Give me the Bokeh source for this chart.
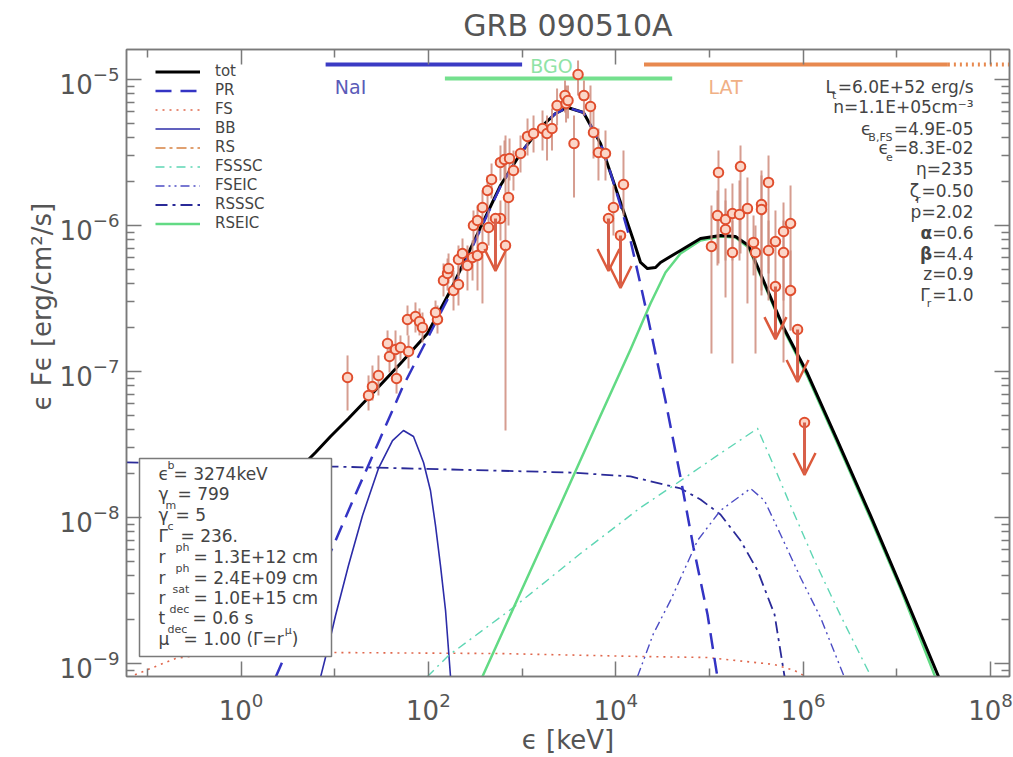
import numpy as np
from bokeh.plotting import figure
from bokeh.models import (Range1d, FixedTicker, LogAxis, Legend, LegendItem, Label, Title,
                          Arrow, OpenHead, ColumnDataSource)
from bokeh.embed import file_html
from bokeh.resources import INLINE

TITLE = "GRB 090510A"
X_LABEL = "ϵ [keV]"
Y_LABEL = "ϵ Fϵ [erg/cm²/s]"

# ---------------- model curves: log10(E/keV), log10(eF_e / erg cm^-2 s^-1) ----------------
tot_logE = [0.688, 0.795, 0.955, 1.147, 1.382, 1.702, 1.990, 2.236, 2.481, 2.769, 2.983, 3.196,
            3.356, 3.484, 3.655, 3.837, 4.018, 4.189, 4.264, 4.338, 4.424, 4.477, 4.691, 4.904,
            5.117, 5.277, 5.416, 5.576, 5.790, 6.046, 6.366, 6.718, 7.038, 7.444]
tot_logF = [-7.623, -7.555, -7.445, -7.322, -7.164, -6.945, -6.740, -6.445, -6.116, -5.726, -5.507,
            -5.329, -5.233, -5.192, -5.226, -5.438, -5.781, -6.103, -6.253, -6.295, -6.288, -6.253,
            -6.171, -6.089, -6.068, -6.075, -6.137, -6.377, -6.699, -7.014, -7.473, -7.986, -8.466,
            -9.089]

pr_logE = [0.368, 0.635, 1.009, 1.222, 1.467, 1.723, 1.990, 2.236, 2.481, 2.769, 2.983, 3.196,
           3.356, 3.484, 3.655, 3.837, 3.943, 4.050, 4.157, 4.264, 4.349, 4.530, 4.691, 4.829,
           4.979, 5.085]
pr_logF = [-9.096, -8.705, -8.158, -7.842, -7.486, -7.110, -6.774, -6.466, -6.130, -5.733, -5.507,
           -5.329, -5.233, -5.192, -5.226, -5.438, -5.637, -5.863, -6.103, -6.404, -6.651, -7.199,
           -7.726, -8.205, -8.664, -9.096]

fs_logE = [-1.201, -0.966, -0.699, -0.326, 1.009, 2.769, 4.264, 4.979, 5.694, 5.907, 6.046]
fs_logF = [-9.096, -9.034, -8.966, -8.932, -8.925, -8.932, -8.952, -8.959, -9.007, -9.048, -9.096]

bb_logE = [0.848, 0.934, 1.009, 1.147, 1.297, 1.467, 1.617, 1.734, 1.841, 1.948, 2.022, 2.076,
           2.129, 2.183, 2.236]
bb_logF = [-9.096, -8.877, -8.671, -8.329, -7.986, -7.664, -7.473, -7.404, -7.445, -7.623, -7.815,
           -8.055, -8.329, -8.637, -9.089]

rs_logE = [float("nan")]   # reverse-shock synchrotron: not inside the plotted range
rs_logF = [float("nan")]

fsssc_logE = [1.990, 2.215, 2.908, 3.623, 4.264, 4.616, 5.085, 5.513, 5.694, 5.865, 6.121, 6.398, 6.729]
fsssc_logF = [-9.089, -8.945, -8.616, -8.247, -7.932, -7.781, -7.575, -7.390, -7.658, -7.918, -8.295,
              -8.671, -9.096]

fseic_logE = [4.232, 4.402, 4.584, 4.872, 5.117, 5.438, 5.587, 5.758, 5.971, 6.185, 6.441]
fseic_logF = [-9.089, -8.795, -8.568, -8.158, -7.952, -7.801, -7.884, -8.116, -8.411, -8.685, -9.096]

rsssc_logE = [-1.222, -0.432, 0.977, 2.236, 3.517, 4.157, 4.691, 4.904, 5.117, 5.331, 5.513, 5.694, 5.801]
rsssc_logF = [-7.623, -7.630, -7.651, -7.671, -7.692, -7.719, -7.801, -7.877, -7.979, -8.158, -8.363,
              -8.664, -9.089]

rseic_logE = [2.577, 2.983, 3.410, 3.837, 4.157, 4.370, 4.530, 4.691, 4.904, 5.117, 5.277, 5.416,
              5.576, 5.790, 6.046, 6.366, 6.718, 7.038, 7.412]
rseic_logF = [-9.089, -8.514, -7.911, -7.301, -6.849, -6.534, -6.322, -6.192, -6.103, -6.075, -6.082,
              -6.151, -6.390, -6.712, -7.034, -7.493, -8.007, -8.486, -9.096]

# ---------------- measured points (GBM + LAT) ----------------
gbm_logE = [1.137, 1.361, 1.403, 1.467, 1.564, 1.585, 1.649, 1.660, 1.702, 1.788,
            1.777, 1.862, 1.905, 1.937, 2.097, 2.076, 2.161, 2.204, 2.215, 2.268,
            2.321, 2.321, 2.364, 2.417, 2.471, 2.524, 2.577, 2.481, 2.524, 2.577,
            2.631, 2.674, 2.642, 2.769, 2.823, 2.769, 2.812, 2.866, 2.855, 2.908,
            2.983, 3.058, 3.122, 3.218, 3.266, 3.319, 3.373, 3.469, 3.554, 3.730,
            3.762, 3.815, 3.890, 4.082, 3.975, 3.597, 3.458, 3.660, 3.490]
gbm_logF = [-7.041, -7.164, -7.103, -7.027, -6.808, -6.897, -6.849, -7.048, -6.836, -6.863,
            -6.644, -6.623, -6.658, -6.699, -6.644, -6.596, -6.377, -6.329, -6.295, -6.445,
            -6.404, -6.233, -6.192, -6.274, -6.219, -6.205, -6.151, -6.000, -5.966, -5.877,
            -5.760, -5.685, -6.014, -5.952, -6.137, -5.568, -5.548, -5.541, -5.808, -5.623,
            -5.507, -5.390, -5.370, -5.336, -5.370, -5.336, -5.178, -5.164, -5.438, -5.185,
            -5.363, -5.500, -5.507, -5.719, -5.877, -4.966, -5.110, -5.110, -5.144]
gbm_logF_hi = [-6.890, -7.027, -6.959, -6.890, -6.719, -6.788, -6.719, -6.959, -6.753, -6.753,
               -6.548, -6.527, -6.568, -6.596, -6.548, -6.514, -6.260, -6.226, -6.192, -6.308,
               -6.274, -6.137, -6.089, -6.137, -6.103, -6.068, -6.014, -5.897, -5.863, -5.760,
               -5.658, -5.575, -5.897, -5.829, -5.384, -5.452, -5.418, -5.404, -5.623, -5.486,
               -5.384, -5.267, -5.247, -5.212, -5.247, -5.199, -5.062, -5.041, -5.247, -5.041,
               -5.212, -5.336, -5.349, -5.486, -5.726, -4.870, -5.007, -5.007, -5.041]
gbm_logF_lo = [-7.267, -7.267, -7.199, -7.164, -6.925, -7.007, -6.979, -7.151, -6.925, -6.979,
               -6.753, -6.733, -6.753, -6.801, -6.740, -6.685, -6.486, -6.445, -6.397, -6.582,
               -6.548, -6.342, -6.308, -6.445, -6.377, -6.445, -6.534, -6.123, -6.089, -6.000,
               -5.897, -5.815, -6.137, -6.103, -7.404, -5.692, -5.678, -5.692, -6.000, -5.760,
               -5.637, -5.521, -5.500, -5.486, -5.555, -5.486, -5.315, -5.295, -5.808, -5.349,
               -5.541, -5.692, -5.692, -5.932, -6.068, -5.110, -5.226, -5.247, -5.267]

lat_logE = [5.096, 5.331, 5.630, 5.021, 5.085, 5.171, 5.245, 5.245, 5.320, 5.405, 5.555,
            5.555, 5.171, 5.470, 5.491, 5.630, 5.704, 5.790, 5.865, 5.790, 5.865]
lat_logF = [-5.637, -5.596, -5.705, -6.144, -5.932, -5.959, -5.918, -6.185, -5.925, -5.884, -5.856,
            -5.890, -6.027, -6.116, -6.185, -6.171, -6.110, -6.041, -5.986, -6.185, -6.445]
lat_logF_hi = [-5.486, -5.452, -5.521, -5.863, -5.760, -5.747, -5.712, -5.966, -5.692, -5.671, -5.623,
               -5.658, -5.829, -5.932, -6.000, -5.966, -5.897, -5.842, -5.726, -5.966, -6.171]
lat_logF_lo = [-6.260, -6.192, -6.329, -6.877, -6.274, -6.493, -6.240, -6.945, -6.240, -6.534, -6.445,
               -6.479, -6.240, -6.342, -6.877, -6.514, -6.445, -6.938, -6.719, -6.514, -6.719]

# upper limits
ul_logE = [2.716, 3.922, 4.050, 5.704, 5.940, 6.014]
ul_logF = [-5.952, -5.952, -6.068, -6.418, -6.712, -7.349]

# detector energy bands (keV)
det_names = ["NaI", "BGO", "LAT"]
det_emin = [8.0, 150.0, 2.0e4]
det_emax = [1.0e3, 4.0e4, 3.5e7]
lat_ext_emax = 3.0e8

# axis ticks (decades)
x_major_exp = [0, 2, 4, 6, 8]
x_minor_exp = [-1, 1, 3, 5, 7]
y_major_exp = [-9, -8, -7, -6, -5]

right_notes = [  # (symbol, subscript, value, bold)
    ("L", "t", "=6.0E+52 erg/s", False),
    ("", "", "n=1.1E+05cm⁻³", False),
    ("ϵ", "B,FS", "=4.9E-05", False),
    ("ϵ", "e", "=8.3E-02", False),
    ("", "", "η=235", False),
    ("ζ", "r", "=0.50", False),
    ("", "", "p=2.02", False),
    ("α", "", "=0.6", True),
    ("β", "", "=4.4", True),
    ("", "", "z=0.9", False),
    ("Γ", "r", "=1.0", False),
]
box_notes = [  # (symbol, small text, kind, value)
    ("ϵ", "b", "sup", "= 3274keV"),
    ("γ", "m", "sub", "= 799"),
    ("γ", "c", "sub", "= 5"),
    ("Γ", "ph", "sub", "= 236."),
    ("r", "ph", "sub", "= 1.3E+12 cm"),
    ("r", "sat", "sub", "= 2.4E+09 cm"),
    ("r", "dec", "sub", "= 1.0E+15 cm"),
    ("t", "dec", "sub", "= 0.6 s"),
    ("μ", "", "", "= 1.00 (Γ=r"),
]

# ---------------- styling helpers ----------------
FONT = "DejaVu Sans"
TXT = "#444444"
AX = "#7a7a7a"
LAB = "#555555"

# page-pixel <-> data mapping of the reference frame (used only to place annotations)
X0_PX, X_PX_DEC = 240.5, 93.7
Y0_PX, Y_PX_DEC = 79.0, 146.0


def dx(px):
    return 10 ** ((px - X0_PX) / X_PX_DEC)


def dy(py):
    return 10 ** (-5 - (py - Y0_PX) / Y_PX_DEC)


def lin(v):
    return list(10 ** np.asarray(v, dtype=float))


WID = {c: 0.636 for c in "0123456789"}
WID.update({".": 0.318, ",": 0.318, "=": 0.838, "+": 0.838, "-": 0.361, " ": 0.318, "E": 0.632,
            "e": 0.615, "r": 0.411, "g": 0.635, "/": 0.337, "s": 0.521, "n": 0.634, "c": 0.55,
            "m": 0.974, "p": 0.635, "z": 0.525, "B": 0.686, "F": 0.575, "S": 0.635, "t": 0.392,
            "(": 0.39, ")": 0.39, "Γ": 0.557, "k": 0.579, "V": 0.684})


def est(s, size):
    return sum(WID.get(ch, 0.6) for ch in s) * size


p = figure(width=1013, height=757, x_axis_type="log", y_axis_type="log",
           x_range=Range1d(dx(126), dx(1009)), y_range=Range1d(dy(676), dy(49)),
           output_backend="svg", toolbar_location=None, title=TITLE,
           min_border_left=126, min_border_right=4, min_border_top=49, min_border_bottom=81)
p.xgrid.visible = False
p.ygrid.visible = False
p.outline_line_color = AX
p.outline_line_width = 1.5
p.background_fill_color = "white"
p.border_fill_color = "white"
p.title.align = "center"
p.title.vertical_align = "top"
p.title.text_font = FONT
p.title.text_font_size = "30px"
p.title.text_font_style = "normal"
p.title.text_color = LAB

xt = FixedTicker(ticks=[10.0 ** e for e in x_major_exp], minor_ticks=[10.0 ** e for e in x_minor_exp])
yt = FixedTicker(ticks=[10.0 ** e for e in y_major_exp],
                 minor_ticks=[m * 10.0 ** e for e in range(-10, -4) for m in range(2, 10)])
bottom = p.below[0]
left = p.left[0]
bottom.ticker = xt
left.ticker = yt
top = LogAxis(ticker=xt)
right = LogAxis(ticker=yt)
p.add_layout(top, "above")
p.add_layout(right, "right")
for ax in (bottom, left, top, right):
    ax.axis_line_color = AX
    ax.axis_line_width = 1.5
    ax.major_tick_line_color = AX
    ax.minor_tick_line_color = AX
    ax.major_tick_line_width = 1.5
    ax.minor_tick_line_width = 1.5
    ax.major_tick_in = 15
    ax.major_tick_out = 0
    ax.minor_tick_in = 8
    ax.minor_tick_out = 0
for ax in (bottom, left):
    ax.major_label_text_font = FONT
    ax.major_label_text_font_size = "26px"
    ax.major_label_text_color = LAB
bottom.major_label_standoff = 15
left.major_label_standoff = 7
bottom.axis_label = X_LABEL
bottom.axis_label_text_font = FONT
bottom.axis_label_text_font_size = "26px"
bottom.axis_label_text_font_style = "normal"
bottom.axis_label_text_color = LAB
bottom.axis_label_standoff = 2
for ax in (top, right):
    ax.major_label_text_font_size = "1px"
    ax.major_label_text_alpha = 0
    ax.major_label_standoff = 0

# y-axis title, placed along the left side like in the reference
ytitle = Title(text=Y_LABEL, align="left", offset=266, text_font=FONT, text_font_size="26px",
               text_font_style="normal", text_color=LAB)
try:
    ytitle.standoff = 0
except AttributeError:
    pass
p.add_layout(ytitle, "left")

# ---------------- model curves ----------------
styles = {
    "tot": dict(line_color="black", line_width=3),
    "PR": dict(line_color="#3434c4", line_width=2.5, line_dash="16 9"),
    "FS": dict(line_color="#e0674c", line_width=1.6, line_dash="2 5"),
    "BB": dict(line_color="#2c2ca8", line_width=1.6),
    "RS": dict(line_color="#e0a070", line_width=2.2, line_dash="10 4 3 4"),
    "FSSSC": dict(line_color="#5ed6b4", line_width=1.4, line_dash="9 5 2 5"),
    "FSEIC": dict(line_color="#4c4cc4", line_width=1.4, line_dash="9 4 2 4 2 4"),
    "RSSSC": dict(line_color="#2a2a98", line_width=1.8, line_dash="12 5 3 5"),
    "RSEIC": dict(line_color="#62da84", line_width=2.5),
}
series = {
    "tot": (tot_logE, tot_logF), "PR": (pr_logE, pr_logF), "FS": (fs_logE, fs_logF),
    "BB": (bb_logE, bb_logF), "RS": (rs_logE, rs_logF), "FSSSC": (fsssc_logE, fsssc_logF),
    "FSEIC": (fseic_logE, fseic_logF), "RSSSC": (rsssc_logE, rsssc_logF),
    "RSEIC": (rseic_logE, rseic_logF),
}
draw_order = ["FS", "RS", "BB", "RSSSC", "FSSSC", "FSEIC", "RSEIC", "tot", "PR"]
rend = {}
for name in draw_order:
    e, f = series[name]
    rend[name] = p.line(x=lin(e), y=lin(f), line_join="round", **styles[name])

# parameter box (drawn over the curves)
p.quad(left=[dx(139)], right=[dx(331)], top=[dy(458)], bottom=[dy(656)],
       fill_color="white", line_color=AX, line_width=1.5)

# ---------------- detector bands ----------------
det_colors = ["#3b3bc4", "#74e08e", "#e8894f"]
det_text_colors = ["#5a5ab8", "#8fe3a6", "#f0b085"]
det_y_px = [64, 78, 64]
det_lab_px = [(350, 86), (551, 65), (725, 86)]
p.segment(x0=det_emin, x1=det_emax, y0=[dy(v) for v in det_y_px], y1=[dy(v) for v in det_y_px],
          line_color=det_colors, line_width=4)
p.segment(x0=[det_emax[2]], x1=[lat_ext_emax], y0=[dy(64)], y1=[dy(64)],
          line_color=det_colors[2], line_width=4, line_dash="2 4")

# ---------------- data points ----------------
all_E = lin(gbm_logE + lat_logE)
all_F = lin(gbm_logF + lat_logF)
all_hi = lin(gbm_logF_hi + lat_logF_hi)
all_lo = lin(gbm_logF_lo + lat_logF_lo)
p.segment(x0=all_E, x1=all_E, y0=all_lo, y1=all_hi, line_color="#cf8c7c", line_width=2, line_alpha=0.85)

ulE = lin(ul_logE)
ulF = lin(ul_logF)
ul_src = ColumnDataSource(dict(x=ulE, y=ulF, tip=[v * 10 ** -0.36 for v in ulF]))
p.add_layout(Arrow(end=OpenHead(size=22, line_color="#dc5a3c", line_width=2.5),
                   x_start="x", y_start="y", x_end="x", y_end="tip", source=ul_src,
                   line_color="#d8604a", line_width=3))

p.scatter(x=all_E + ulE, y=all_F + ulF, size=9.5, marker="circle",
          line_color="#e04e2e", fill_color="#fbd6c8", line_width=2)

# ---------------- legend ----------------
legend_order = ["tot", "PR", "FS", "BB", "RS", "FSSSC", "FSEIC", "RSSSC", "RSEIC"]
legend = Legend(items=[LegendItem(label=n, renderers=[rend[n]]) for n in legend_order],
                location=(25, 440), orientation="vertical", glyph_width=45, glyph_height=17,
                label_height=17, spacing=1, padding=4, margin=0, label_standoff=15,
                label_text_font=FONT, label_text_font_size="15px", label_text_color=TXT,
                background_fill_alpha=0, border_line_alpha=0)
p.add_layout(legend)


# ---------------- text annotations (inside the frame) ----------------
def note(px, py, text, size, color=TXT, align="left", style="normal"):
    p.add_layout(Label(x=dx(px), y=dy(py), text=text, text_font=FONT, text_font_size=f"{size}px",
                       text_color=color, text_align=align, text_baseline="middle",
                       text_font_style=style))


for name, (lx, ly), col in zip(det_names, det_lab_px, det_text_colors):
    note(lx, ly, name, 19, color=col, align="center")

right_y = [86, 106, 128, 147, 168, 190, 211, 232, 253, 273, 294]
RIGHT_EDGE = 973
for (sym, sub, val, bold), yc in zip(right_notes, right_y):
    note(RIGHT_EDGE, yc, val, 17, align="right")
    start = RIGHT_EDGE - est(val, 17)
    x_sym = start
    if sub:
        wsub = est(sub, 11)
        note(start - wsub - 1, yc + 9, sub, 11, align="left")
        x_sym = start - wsub + 2
    if sym:
        note(x_sym, yc, sym, 17, align="right", style="bold" if bold else "normal")

box_y = [473, 493, 514, 535, 556, 577, 597, 617, 638]
box_eq_x = [173, 177, 175, 180, 193, 193, 193, 192, 183]
box_small_x = [167, 165, 167, 175, 175, 172, 169, 167, 0]
for (sym, small, kind, val), yc, xe, xs in zip(box_notes, box_y, box_eq_x, box_small_x):
    note(158, yc, sym, 17)
    note(xe, yc, val, 17)
    if small:
        note(xs, yc - 8 if kind == "sup" else yc + 12, small, 11)
# trailing exponent of the last line: (Γ=r^μ)
end9 = 183 + est(box_notes[-1][3], 17)
note(end9 + 1, 630, "μ", 11)
note(end9 + 8, 638, ")", 17)

with open("out.html", "w", encoding="utf-8") as fh:
    fh.write(file_html(p, INLINE))
